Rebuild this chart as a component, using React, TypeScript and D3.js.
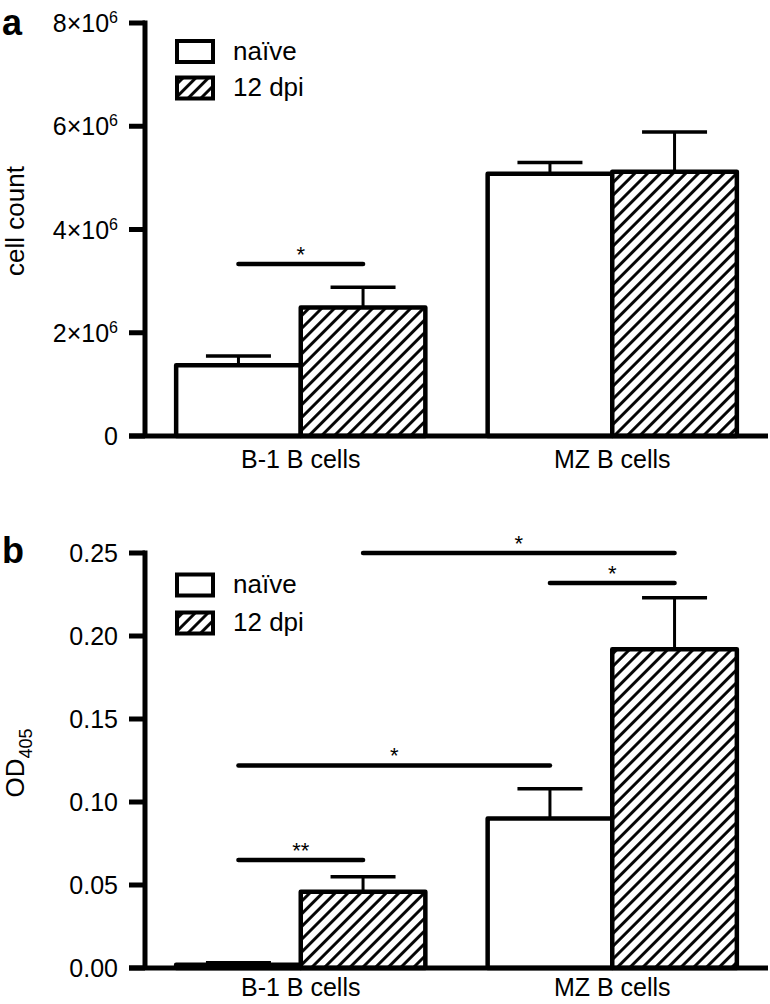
import React from "react";
import * as d3 from "d3";

const groups = ["B-1 B cells", "MZ B cells"];
const seriesNames = ["naïve", "12 dpi"];

// panel a: cell count
const cellNaive = [1.37e6, 5.08e6];
const cellNaiveErr = [0.18e6, 0.22e6];
const cellDpi = [2.49e6, 5.12e6];
const cellDpiErr = [0.39e6, 0.77e6];
const cellTicks = [0, 2e6, 4e6, 6e6, 8e6];

// panel b: OD405
const odNaive = [0.002, 0.09];
const odNaiveErr = [0.0012, 0.018];
const odDpi = [0.046, 0.192];
const odDpiErr = [0.009, 0.031];
const odTicks = [0, 0.05, 0.1, 0.15, 0.2, 0.25];

// significance brackets: [group, series] -> [group, series]
const sigA = [{ a: [0, 0], b: [0, 1], y: 3.33e6, label: "*" }];
const sigB = [
  { a: [0, 1], b: [1, 1], y: 0.25, label: "*" },
  { a: [1, 0], b: [1, 1], y: 0.232, label: "*" },
  { a: [0, 0], b: [1, 0], y: 0.122, label: "*" },
  { a: [0, 0], b: [0, 1], y: 0.065, label: "**" },
];

const FONT = "'Liberation Sans', Arial, Helvetica, sans-serif";
const AXIS_X = 145;
const RIGHT = 768;

const xGroup = d3.scaleBand<string>().domain(groups).range([AXIS_X, RIGHT]).paddingInner(0.2).paddingOuter(0.1);
const xSeries = d3.scaleBand<string>().domain(seriesNames).range([0, xGroup.bandwidth()]);

function center(gs: number[]) {
  return (xGroup(groups[gs[0]]) as number) + (xSeries(seriesNames[gs[1]]) as number) + xSeries.bandwidth() / 2;
}

type PanelProps = {
  y: d3.ScaleLinear<number, number>;
  ticks: number[];
  tickLabel: (v: number) => React.ReactNode;
  naive: number[];
  naiveErr: number[];
  dpi: number[];
  dpiErr: number[];
  sig: { a: number[]; b: number[]; y: number; label: string }[];
  letter: string;
  letterY: number;
  title: React.ReactNode;
  legendY: number[];
  catOffset: number;
};

function Panel(p: PanelProps) {
  const [y0, y1] = p.y.range();
  const bw = xSeries.bandwidth();
  const capW = 65;
  const bars: React.ReactNode[] = [];
  const vals = [p.naive, p.dpi];
  const errs = [p.naiveErr, p.dpiErr];
  seriesNames.forEach((s, si) => {
    groups.forEach((g, gi) => {
      const x = (xGroup(g) as number) + (xSeries(s) as number);
      const top = p.y(vals[si][gi]);
      const cap = p.y(vals[si][gi] + errs[si][gi]);
      const cx = x + bw / 2;
      bars.push(
        <g key={s + g}>
          <line x1={cx} x2={cx} y1={top} y2={cap} stroke="#000" strokeWidth={3} />
          <line x1={cx - capW / 2} x2={cx + capW / 2} y1={cap} y2={cap} stroke="#000" strokeWidth={3.5} />
          <rect x={x} y={top} width={bw} height={y0 - top} fill={si === 0 ? "#fff" : "url(#hatch)"} stroke="#000" strokeWidth={4.5} strokeLinejoin="round" />
        </g>
      );
    });
  });
  return (
    <g>
      <text x={2} y={p.letterY} fontSize={36} fontWeight="bold" fontFamily={FONT}>{p.letter}</text>
      {p.title}
      {bars}
      <line x1={AXIS_X} x2={AXIS_X} y1={y1 - 2.5} y2={y0} stroke="#000" strokeWidth={5} />
      <line x1={129} x2={RIGHT} y1={y0} y2={y0} stroke="#000" strokeWidth={5} />
      {p.ticks.map((t) => (
        <g key={t}>
          <line x1={129} x2={AXIS_X} y1={p.y(t)} y2={p.y(t)} stroke="#000" strokeWidth={5} />
          <text x={118} y={p.y(t) + 9} textAnchor="end" fontSize={25} fontFamily={FONT}>{p.tickLabel(t)}</text>
        </g>
      ))}
      {groups.map((g) => (
        <text key={g} x={(xGroup(g) as number) + xGroup.bandwidth() / 2} y={y0 + p.catOffset} textAnchor="middle" fontSize={25} fontFamily={FONT}>{g}</text>
      ))}
      {p.sig.map((s, i) => {
        const xa = center(s.a);
        const xb = center(s.b);
        const yy = p.y(s.y);
        return (
          <g key={i}>
            <line x1={xa} x2={xb} y1={yy} y2={yy} stroke="#000" strokeWidth={4.5} strokeLinecap="round" />
            <text x={(xa + xb) / 2} y={yy - 2} textAnchor="middle" fontSize={22} fontFamily={FONT}>{s.label}</text>
          </g>
        );
      })}
      {seriesNames.map((s, i) => (
        <g key={s}>
          <rect x={177} y={p.legendY[i] - 10.5} width={36} height={21} fill={i === 0 ? "#fff" : "url(#hatch)"} stroke="#000" strokeWidth={4} />
          <text x={233} y={p.legendY[i] + 8} fontSize={26} fontFamily={FONT}>{s}</text>
        </g>
      ))}
    </g>
  );
}

export default function App() {
  const yA = d3.scaleLinear().domain([0, 8e6]).range([436, 23]);
  const yB = d3.scaleLinear().domain([0, 0.25]).range([968, 553]);
  const sci = (v: number) =>
    v === 0 ? "0" : (
      <>
        {`${v / 1e6}×10`}
        <tspan dy={-9} fontSize={16}>6</tspan>
      </>
    );
  const fix = (v: number) => d3.format(".2f")(v);
  return (
    <svg width={770} height={1004} style={{ position: "absolute", left: 0, top: 0, background: "#fff" }}>
      <defs>
        <pattern id="hatch" patternUnits="userSpaceOnUse" width={9} height={9} patternTransform="rotate(45)">
          <rect width={9} height={9} fill="#fff" />
          <line x1={4.5} x2={4.5} y1={-1} y2={10} stroke="#000" strokeWidth={2.9} />
        </pattern>
      </defs>
      <rect width={770} height={1004} fill="#fff" />
      <Panel
        y={yA}
        ticks={cellTicks}
        tickLabel={sci}
        naive={cellNaive}
        naiveErr={cellNaiveErr}
        dpi={cellDpi}
        dpiErr={cellDpiErr}
        sig={sigA}
        letter="a"
        letterY={35}
        title={
          <text transform="translate(24,221) rotate(-90)" textAnchor="middle" fontSize={26} fontFamily={FONT}>cell count</text>
        }
        legendY={[51.5, 88]}
        catOffset={32}
      />
      <Panel
        y={yB}
        ticks={odTicks}
        tickLabel={fix}
        naive={odNaive}
        naiveErr={odNaiveErr}
        dpi={odDpi}
        dpiErr={odDpiErr}
        sig={sigB}
        letter="b"
        letterY={563}
        title={
          <text transform="translate(24,763) rotate(-90)" textAnchor="middle" fontSize={26} fontFamily={FONT}>
            OD<tspan dy={8} fontSize={18}>405</tspan>
          </text>
        }
        legendY={[585, 623]}
        catOffset={28}
      />
    </svg>
  );
}
